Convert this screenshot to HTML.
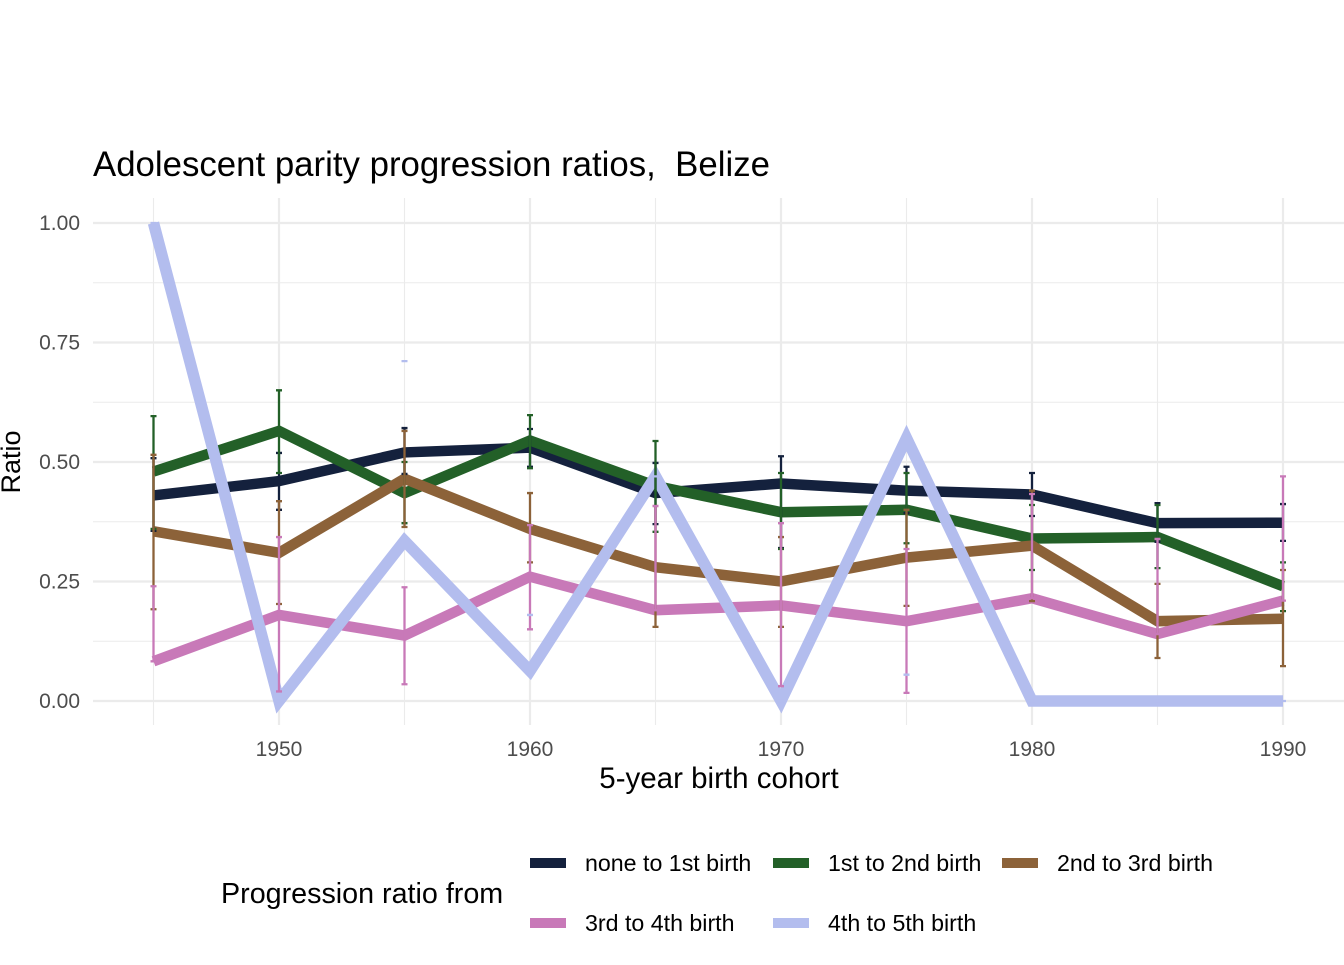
<!DOCTYPE html>
<html><head><meta charset="utf-8"><style>
body{margin:0;background:#fff;font-family:"Liberation Sans",Arial,sans-serif}
</style></head><body>
<svg id="chart" width="1344" height="960" xmlns="http://www.w3.org/2000/svg">
<text x="93" y="176" font-size="34.8" fill="#000">Adolescent parity progression ratios,&#160; Belize</text>
<g id="grid"></g><g id="lines"></g><g id="bars"></g><g id="axes"></g><g id="legend"></g>
</svg>
<script>
const years=[1945,1950,1955,1960,1965,1970,1975,1980,1985,1990];
const seriesNames=["none to 1st birth","1st to 2nd birth","2nd to 3rd birth","3rd to 4th birth","4th to 5th birth"];
const colors=["#14213d","#236028","#8c6239","#c879b8","#b3bdee"];
const s0=[0.43,0.46,0.52,0.53,0.435,0.455,0.44,0.432,0.372,0.373];
const s1=[0.48,0.565,0.435,0.545,0.45,0.395,0.40,0.34,0.343,0.24];
const s2=[0.355,0.31,0.465,0.36,0.28,0.25,0.30,0.325,0.167,0.172];
const s3=[0.083,0.18,0.137,0.26,0.19,0.20,0.167,0.215,0.14,0.21];
const s4=[1.0,0,0.335,0.063,0.47,0,0.55,0,0,0];
const lo0=[0.356,0.40,0.475,0.49,0.37,0.32,0.393,0.387,0.333,0.335];
const hi0=[0.508,0.519,0.571,0.569,0.498,0.512,0.49,0.477,0.414,0.412];
const lo1=[0.36,0.477,0.372,0.487,0.354,0.318,0.33,0.274,0.278,0.188];
const hi1=[0.596,0.65,0.50,0.598,0.544,0.477,0.477,0.41,0.41,0.29];
const lo2=[0.192,0.203,0.364,0.29,0.155,0.155,0.199,0.209,0.09,0.073];
const hi2=[0.515,0.418,0.565,0.435,0.408,0.343,0.40,0.44,0.245,0.274];
const lo3=[0.083,0.02,0.035,0.15,0.19,0.031,0.017,0.215,0.14,0.21];
const hi3=[0.24,0.343,0.238,0.368,0.408,0.372,0.318,0.433,0.339,0.47];
const lo4=[1.0,0,0.711,0.18,0.47,0,0.055,0,0,0];
const hi4=[1.0,0,0.711,0.18,0.47,0,0.055,0,0,0];
const xTicks=[1950,1960,1970,1980,1990];
const yTicks=[0,0.25,0.5,0.75,1.0];
const yTickLabels=["0.00","0.25","0.50","0.75","1.00"];
const S=[s0,s1,s2,s3,s4],LO=[lo0,lo1,lo2,lo3,lo4],HI=[hi0,hi1,hi2,hi3,hi4];
const X=y=>279+(y-1950)*25.1, Y=v=>701-v*478;
const NS="http://www.w3.org/2000/svg";
function mk(p,t,a){const e=document.createElementNS(NS,t);for(const k in a)e.setAttribute(k,a[k]);p.appendChild(e);return e;}
const grid=document.getElementById('grid');
for(let v=0.125;v<1.1;v+=0.25){const g=mk(grid,'line',{x1:93,x2:1344,y1:Y(v),y2:Y(v),stroke:'#ebebeb','stroke-width':1.1});

}
for(let yr=1945;yr<=1990;yr+=10){const g=mk(grid,'line',{x1:X(yr),x2:X(yr),y1:198,y2:725,stroke:'#ebebeb','stroke-width':1.1});

}
yTicks.forEach((v,i)=>{const g=mk(grid,'line',{x1:93,x2:1344,y1:Y(v),y2:Y(v),stroke:'#ebebeb','stroke-width':2.2});


const t=mk(document.getElementById('axes'),'text',{x:80,y:Y(v)+7,'text-anchor':'end','font-size':21,fill:'#4d4d4d'});t.textContent=yTickLabels[i];

});
xTicks.forEach(yr=>{const g=mk(grid,'line',{x1:X(yr),x2:X(yr),y1:198,y2:725,stroke:'#ebebeb','stroke-width':2.2});


const t=mk(document.getElementById('axes'),'text',{x:X(yr),y:756,'text-anchor':'middle','font-size':21,fill:'#4d4d4d'});t.textContent=yr;

});
const ax=document.getElementById('axes');
let t=mk(ax,'text',{x:719,y:788,'text-anchor':'middle','font-size':29.5});t.textContent='5-year birth cohort';


t=mk(ax,'text',{x:0,y:0,'text-anchor':'middle','font-size':27,transform:'translate(20,462) rotate(-90)'});t.textContent='Ratio';


const lines=document.getElementById('lines'),bars=document.getElementById('bars');
S.forEach((s,i)=>{const p=mk(lines,'polyline',{points:s.map((v,j)=>X(years[j])+','+Y(v)).join(' '),fill:'none',stroke:colors[i],'stroke-width':i==4?11.5:10.5,'stroke-linejoin':'miter'});

});
S.forEach((s,i)=>{years.forEach((yr,j)=>{const g=mk(bars,'path',{d:`M${X(yr)-3},${Y(HI[i][j])}h6M${X(yr)},${Y(HI[i][j])}V${Y(LO[i][j])}M${X(yr)-3},${Y(LO[i][j])}h6`,stroke:colors[i],'stroke-width':2.3,fill:'none'});

});});
const lg=document.getElementById('legend');
t=mk(lg,'text',{x:221,y:903,'font-size':28.7});t.textContent='Progression ratio from';


const pos=[[530,863],[773,863],[1002,863],[530,923],[773,923]];
seriesNames.forEach((n,i)=>{const[x,y]=pos[i];
const k=mk(lg,'line',{x1:x,x2:x+36,y1:y,y2:y,stroke:colors[i],'stroke-width':10});


const tt=mk(lg,'text',{x:x+55,y:y+8,'font-size':23.2});tt.textContent=n;

});
</script>
</body></html>
